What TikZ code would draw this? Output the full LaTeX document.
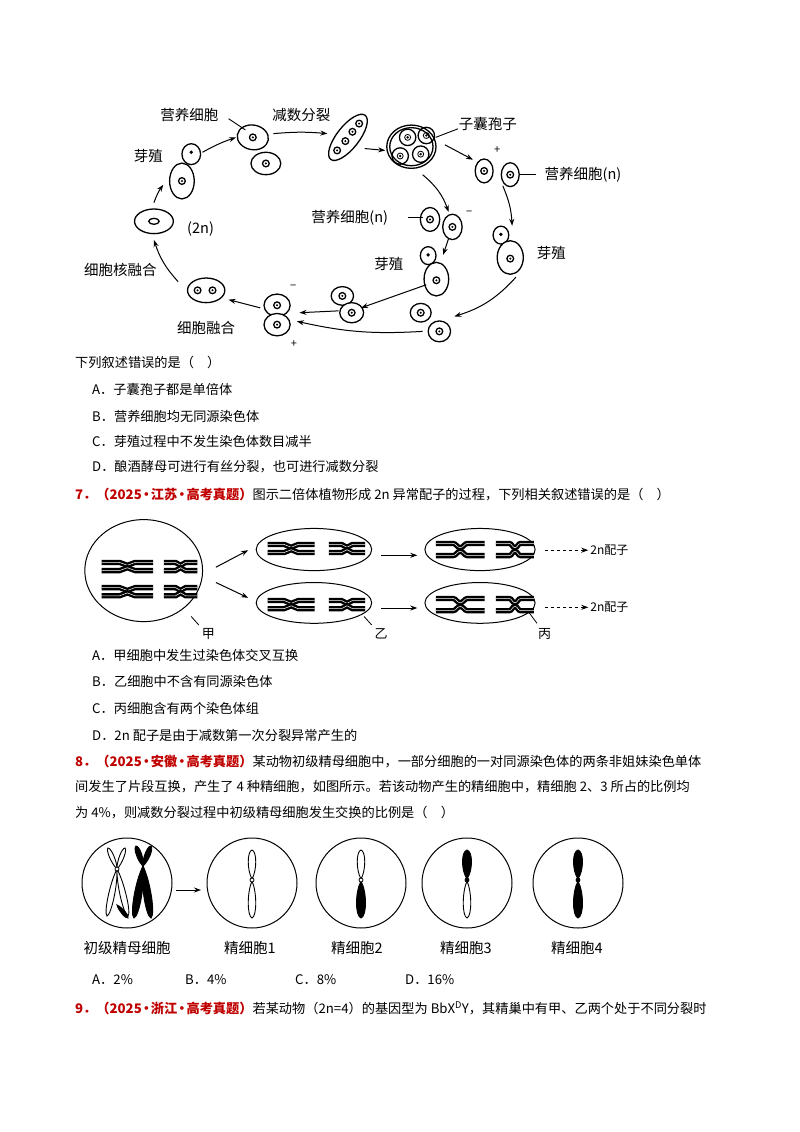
\documentclass[tikz,border=0pt]{standalone}
\usepackage{fontspec}
\setmainfont{Noto Sans CJK SC}
\usetikzlibrary{arrows.meta,calc}
\definecolor{qred}{HTML}{C00000}
\newcommand\nuc[2]{\draw[cellline] (#1,#2) circle[radius=9]; \fill (#1,#2) circle[radius=3];}
\newcommand\cell[5]{\filldraw[cellline,fill=white] (#1,#2) ellipse[x radius=#3,y radius=#4,rotate=#5];}
\newcommand\chrom[4]{%
 \draw[chr] ({#1-#3},{#2-#4}) -- ({#1-0.3*#3},{#2-#4}) to[out=0,in=180] ({#1},{#2-0.3*#4}) to[out=0,in=180] ({#1+0.3*#3},{#2-#4}) -- ({#1+#3},{#2-#4});
 \draw[chr] ({#1-#3},{#2+#4}) -- ({#1-0.3*#3},{#2+#4}) to[out=0,in=180] ({#1},{#2+0.3*#4}) to[out=0,in=180] ({#1+0.3*#3},{#2+#4}) -- ({#1+#3},{#2+#4});}
\newcommand\lens[6]{% x0 y0 x1 y1 width fill
 \filldraw[line width=0.9pt,fill=#6] (#1,#2) .. controls ($(#1,#2)!0.3!(#3,#4)!#5!90:(#3,#4)$) and ($(#1,#2)!0.95!(#3,#4)!#5!90:(#3,#4)$) .. (#3,#4) .. controls ($(#1,#2)!0.95!(#3,#4)!#5!-90:(#3,#4)$) and ($(#1,#2)!0.3!(#3,#4)!#5!-90:(#3,#4)$) .. (#1,#2) -- cycle;}
\begin{document}
\begin{tikzpicture}[x=1pt,y=-1pt,
 txt/.style={anchor=west,inner sep=0pt,font=\fontsize{13.2pt}{16pt}\selectfont},
 lab/.style={inner sep=0pt,font=\fontsize{14.5pt}{17pt}\selectfont},
 cellline/.style={line width=1.3pt},
 arr/.style={line width=1pt,-{Stealth[length=7pt,width=5pt]}},
 chr/.style={line width=2.4pt,double=white,double distance=0.5pt},
 big/.style={line width=1pt}]
\fill[white] (0,0) rectangle (800,1132);
\useasboundingbox (0,0) rectangle (800,1132);
% ---------- diagram 1 ----------
\begin{scope}[shift={(70,87)},x=0.3731pt,y=-0.3731pt]
\cell{490}{135}{42}{33}{-10}\nuc{490}{135}
\cell{525}{205}{40}{30}{0}\nuc{525}{205}
\filldraw[cellline,fill=white,rotate around={52:(745,135)}] (745,135) ellipse[x radius=75,y radius=30];
\nuc{775}{98}\nuc{757}{120}\nuc{738}{145}\nuc{716}{170}
\draw[cellline] (915,160) ellipse[x radius=66,y radius=58];
\draw[cellline] (915,160) ellipse[x radius=58,y radius=51];
\foreach \p in {(905,135),(955,130),(885,185),(940,180)} {\draw[cellline] \p circle[radius=22]; \fill \p circle[radius=3.5]; \draw[line width=0.8pt] \p circle[radius=8];}
\cell{1110}{225}{24}{32}{0}\nuc{1110}{225}
\cell{1180}{235}{24}{32}{0}\nuc{1180}{235}
\cell{965}{355}{26}{32}{0}\nuc{965}{355}
\cell{1025}{375}{26}{34}{0}\nuc{1025}{375}
\cell{960}{452}{21}{24}{0}
\cell{982}{515}{33}{45}{0}\fill (960,450) circle[radius=5];\nuc{982}{518}
\cell{1155}{397}{21}{24}{0}
\cell{1180}{457}{35}{45}{0}\fill (1155,395) circle[radius=5];\nuc{1180}{460}
\cell{940}{605}{28}{25}{0}\nuc{940}{605}
\cell{990}{655}{30}{28}{0}\nuc{990}{655}
\cell{730}{560}{30}{25}{0}\nuc{730}{560}
\cell{755}{605}{32}{27}{0}\nuc{755}{605}
\cell{555}{585}{35}{30}{0}\nuc{555}{585}
\cell{555}{637}{35}{30}{0}\nuc{555}{637}
\cell{365}{545}{50}{33}{0}\nuc{342}{545}\nuc{382}{545}
\cell{225}{360}{52}{33}{0}\draw[cellline] (225,360) ellipse[x radius=14,y radius=8];
\cell{325}{180}{25}{28}{0}
\cell{300}{252}{33}{48}{0}\fill (325,175) circle[radius=5];\nuc{300}{252}
% arrows
\draw[arr] (225,310) to[bend left=8] (250,262);
\draw[arr] (355,175) to[bend left=5] (445,135);
\draw[arr] (545,125) to[bend left=5] (690,125);
\draw[arr] (790,165) -- (845,170);
\draw[arr] (1005,155) -- (1080,195);
\draw[arr] (945,235) to[bend left=15] (1015,335);
\draw[arr] (1160,265) to[bend left=10] (1185,372);
\draw[arr] (1195,510) to[bend left=15] (1030,615);
\draw[arr] (945,655) to[bend left=8] (608,628);
\draw[arr] (1015,405) -- (1000,450);
\draw[arr] (955,530) -- (780,592);
\draw[arr] (720,600) -- (615,605);
\draw[arr] (510,592) -- (425,570);
\draw[arr] (290,522) to[bend left=12] (225,410);
% leaders
\draw[line width=0.9pt] (425,85) -- (470,115);
\draw[line width=0.9pt] (980,135) -- (1040,112);
\draw[line width=0.9pt] (1205,235) -- (1250,235);
\draw[line width=0.9pt] (905,350) -- (945,350);
% labels
\node[lab] at (320,75) {营养细胞};
\node[lab] at (620,75) {减数分裂};
\node[lab] at (1120,100) {子囊孢子};
\node[lab] at (210,185) {芽殖};
\node[lab] at (350,380) {(2n)};
\node[lab] at (135,490) {细胞核融合};
\node[lab] at (365,645) {细胞融合};
\node[lab] at (1375,235) {营养细胞(n)};
\node[lab] at (750,350) {营养细胞(n)};
\node[lab] at (855,475) {芽殖};
\node[lab] at (1290,445) {芽殖};
\node[lab,font=\fontsize{11pt}{12pt}\selectfont] at (1145,170) {+};
\node[lab,font=\fontsize{11pt}{12pt}\selectfont] at (1070,338) {−};
\node[lab,font=\fontsize{11pt}{12pt}\selectfont] at (598,538) {−};
\node[lab,font=\fontsize{11pt}{12pt}\selectfont] at (600,690) {+};
\end{scope}
% ---------- question 6 text ----------
\node[txt] (t1) at (75,362) {下列叙述错误的是（\quad ）};
\node[txt] (t2) at (92,389) {A．子囊孢子都是单倍体};
\node[txt] (t3) at (92,416) {B．营养细胞均无同源染色体};
\node[txt] (t4) at (92,441) {C．芽殖过程中不发生染色体数目减半};
\node[txt] (t5) at (92,467) {D．酿酒酵母可进行有丝分裂，也可进行减数分裂};
\node[txt] (q7) at (75,494) {\textcolor{qred}{\textbf{7．（2025{\kern-2pt}·{\kern-2pt}江苏{\kern-2pt}·{\kern-2pt}高考真题）}}图示二倍体植物形成 2n 异常配子的过程，下列相关叙述错误的是（\quad ）};
% ---------- diagram 2 ----------
\begin{scope}[shift={(81,506)},x=0.38pt,y=-0.34pt]
\draw[big] (165,190) ellipse[x radius=155,y radius=150];
\draw[big] (613,128) ellipse[x radius=152,y radius=62];
\draw[big] (613,285) ellipse[x radius=152,y radius=60];
\draw[big] (1050,128) ellipse[x radius=145,y radius=62];
\draw[big] (1050,285) ellipse[x radius=145,y radius=60];
\chrom{122}{178}{68}{12}\chrom{262}{178}{44}{12}
\chrom{122}{252}{68}{12}\chrom{262}{252}{44}{12}
\chrom{553}{125}{62}{12}\chrom{700}{125}{48}{12}
\chrom{553}{290}{62}{12}\chrom{700}{290}{48}{12}
\chrom{998}{128}{64}{18}\chrom{1142}{128}{50}{18}
\chrom{998}{290}{64}{18}\chrom{1142}{290}{50}{18}
\draw[arr] (355,180) -- (440,130);
\draw[arr] (355,225) -- (440,270);
\draw[arr] (790,145) -- (885,145);
\draw[arr] (790,300) -- (885,300);
\draw[arr,dashed] (1220,130) -- (1335,130);
\draw[arr,dashed] (1220,298) -- (1335,298);
\node[lab,anchor=west,font=\fontsize{12pt}{14pt}\selectfont] at (1340,130) {2n配子};
\node[lab,anchor=west,font=\fontsize{12pt}{14pt}\selectfont] at (1340,298) {2n配子};
\draw[line width=0.8pt] (290,325) -- (310,350);
\draw[line width=0.8pt] (745,325) -- (765,350);
\draw[line width=0.8pt] (1180,315) -- (1200,345);
\node[lab,font=\fontsize{13pt}{14pt}\selectfont] at (335,375) {甲};
\node[lab,font=\fontsize{13pt}{14pt}\selectfont] at (790,375) {乙};
\node[lab,font=\fontsize{13pt}{14pt}\selectfont] at (1220,375) {丙};
\end{scope}
% ---------- question 7 options ----------
\node[txt] at (92,655) {A．甲细胞中发生过染色体交叉互换};
\node[txt] at (92,681) {B．乙细胞中不含有同源染色体};
\node[txt] at (92,708) {C．丙细胞含有两个染色体组};
\node[txt] at (92,735) {D．2n 配子是由于减数第一次分裂异常产生的};
\node[txt] at (75,761) {\textcolor{qred}{\textbf{8．（2025{\kern-2pt}·{\kern-2pt}安徽{\kern-2pt}·{\kern-2pt}高考真题）}}某动物初级精母细胞中，一部分细胞的一对同源染色体的两条非姐妹染色单体};
\node[txt] at (75,787) {间发生了片段互换，产生了 4 种精细胞，如图所示。若该动物产生的精细胞中，精细胞 2、3 所占的比例均};
\node[txt] at (75,813) {为 4\%，则减数分裂过程中初级精母细胞发生交换的比例是（\quad ）};
% ---------- diagram 3 ----------
\foreach \cx in {127,252,361,467,578} {\draw[big] (\cx,883) circle[radius=45];}
\draw[arr] (176,890) -- (201,890);
\lens{117}{869}{108}{848}{3pt}{white}
\lens{117}{869}{125}{848}{3pt}{white}
\lens{117}{869}{107}{916}{4pt}{white}
\lens{117}{869}{128}{916}{4pt}{white}
\lens{117}{905}{128}{918}{2.5pt}{black}
\lens{143}{866}{136}{846}{3.5pt}{black}
\lens{143}{866}{151}{846}{3.5pt}{black}
\lens{143}{866}{134}{918}{5pt}{black}
\lens{143}{866}{151}{918}{5pt}{black}
\draw[line width=0.8pt,fill=white] (117,869) circle[radius=2];
\lens{252}{879}{252}{850}{5pt}{white}\lens{252}{881}{252}{918}{5pt}{white}\draw[line width=0.8pt,fill=white] (252,880) circle[radius=2];
\lens{361}{879}{361}{850}{5pt}{white}\lens{361}{881}{361}{918}{6pt}{black}\draw[line width=0.8pt,fill=white] (361,880) circle[radius=2];
\lens{467}{879}{467}{850}{6pt}{black}\lens{467}{881}{467}{918}{5pt}{white}\draw[line width=0.8pt,fill=black] (467,880) circle[radius=2];
\lens{578}{879}{578}{850}{6pt}{black}\lens{578}{881}{578}{918}{6pt}{black}\draw[line width=0.8pt,fill=black] (578,880) circle[radius=2];
\node[lab] at (127,948) {初级精母细胞};
\node[lab] at (250,948) {精细胞1};
\node[lab] at (357,948) {精细胞2};
\node[lab] at (466,948) {精细胞3};
\node[lab] at (577,948) {精细胞4};
\node[txt] at (92,980) {A．2\%};
\node[txt] at (185,980) {B．4\%};
\node[txt] at (295,980) {C．8\%};
\node[txt] at (405,980) {D．16\%};
\node[txt] at (75,1008) {\textcolor{qred}{\textbf{9．（2025{\kern-2pt}·{\kern-2pt}浙江{\kern-2pt}·{\kern-2pt}高考真题）}}若某动物（2n=4）的基因型为 BbX\textsuperscript{D}Y，其精巢中有甲、乙两个处于不同分裂时};
\end{tikzpicture}
\end{document}
